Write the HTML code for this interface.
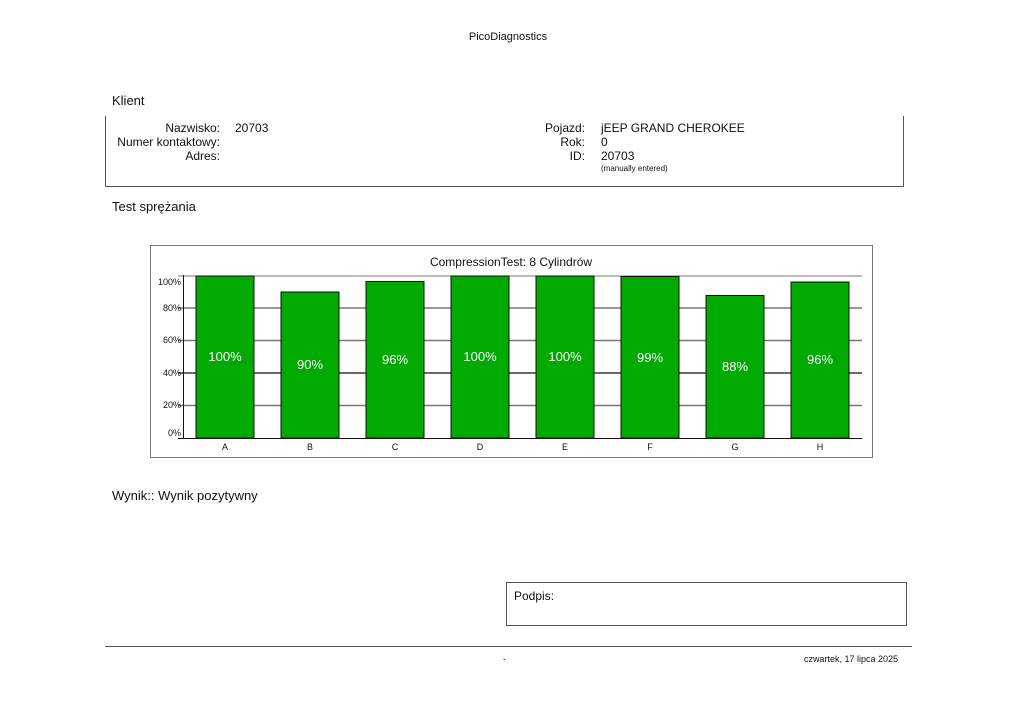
<!DOCTYPE html>
<html><head><meta charset="utf-8"><style>
body{margin:0;width:1024px;height:724px;background:#fff;font-family:"Liberation Sans",Arial,sans-serif;color:#111;position:relative;overflow:hidden}
.a{position:absolute;white-space:nowrap}
.r{text-align:right}
</style></head><body>
<div class="a" style="left:0;width:1016px;text-align:center;top:31px;font-size:11px">PicoDiagnostics</div>
<div class="a" style="left:112px;top:93px;font-size:13px">Klient</div>
<div class="a" style="left:105px;top:116px;width:797px;height:70px;border-left:1px solid #555;border-right:1px solid #555;border-bottom:1px solid #555"></div>
<div class="a r" style="right:804px;top:121px;font-size:12px;line-height:14px">Nazwisko:<br>Numer kontaktowy:<br>Adres:</div>
<div class="a" style="left:235px;top:121px;font-size:12px">20703</div>
<div class="a r" style="right:439px;top:121px;font-size:12px;line-height:14px">Pojazd:<br>Rok:<br>ID:</div>
<div class="a" style="left:601px;top:121px;font-size:12px;line-height:14px">jEEP GRAND CHEROKEE<br>0<br>20703</div>
<div class="a" style="left:601px;top:164px;font-size:8px">(manually entered)</div>
<div class="a" style="left:112px;top:199px;font-size:13px">Test sprężania</div>
<svg class="a" style="left:0;top:0" width="1024" height="724" font-family="Liberation Sans, Arial, sans-serif">
<rect x="150.5" y="245.5" width="722" height="212" fill="none" stroke="#777"/>
<text x="511" y="266" font-size="12" text-anchor="middle" fill="#111">CompressionTest: 8 Cylindrów</text>
<g stroke="#777" stroke-width="1.5">
<line x1="178" x2="862" y1="308" y2="308"/><line x1="178" x2="862" y1="340.5" y2="340.5"/>
<line x1="178" x2="862" y1="405.5" y2="405.5"/></g>
<line x1="178" x2="862" y1="373" y2="373" stroke="#111" stroke-width="1.2"/>
<line x1="178" x2="862" y1="276" y2="276" stroke="#777"/>
<line x1="183.5" x2="183.5" y1="275" y2="438" stroke="#111"/>
<line x1="178" x2="862" y1="438.5" y2="438.5" stroke="#111"/>
<g font-size="9" text-anchor="end" fill="#111">
<text x="181" y="285">100%</text><text x="181" y="311">80%</text><text x="181" y="343">60%</text>
<text x="181" y="376">40%</text><text x="181" y="408">20%</text><text x="181" y="436">0%</text></g>
<g fill="#00aa00" stroke="#111" stroke-width="1">
<rect x="196" y="276" width="58" height="162"/>
<rect x="281" y="292" width="58" height="146"/>
<rect x="366" y="281.5" width="58" height="156.5"/>
<rect x="451" y="276" width="58" height="162"/>
<rect x="536" y="276" width="58" height="162"/>
<rect x="621" y="276.5" width="58" height="161.5"/>
<rect x="706" y="295.5" width="58" height="142.5"/>
<rect x="791" y="282" width="58" height="156"/></g>
<g font-size="13" text-anchor="middle" fill="#fff">
<text x="225" y="361">100%</text><text x="310" y="369">90%</text><text x="395" y="364">96%</text>
<text x="480" y="361">100%</text><text x="565" y="361">100%</text><text x="650" y="362">99%</text>
<text x="735" y="371">88%</text><text x="820" y="364">96%</text></g>
<g font-size="9" text-anchor="middle" fill="#111">
<text x="225" y="450">A</text><text x="310" y="450">B</text><text x="395" y="450">C</text><text x="480" y="450">D</text>
<text x="565" y="450">E</text><text x="650" y="450">F</text><text x="735" y="450">G</text><text x="820" y="450">H</text></g>
<rect x="506.5" y="582.5" width="400" height="43" fill="none" stroke="#555"/>
<line x1="105" x2="912" y1="646.5" y2="646.5" stroke="#555"/>
</svg>
<div class="a" style="left:112px;top:488px;font-size:13px">Wynik:: Wynik pozytywny</div>
<div class="a" style="left:514px;top:589px;font-size:12px">Podpis:</div>
<div class="a" style="left:503px;top:654px;font-size:9px">-</div>
<div class="a r" style="right:126px;top:654px;font-size:9px">czwartek, 17 lipca 2025</div>
</body></html>
